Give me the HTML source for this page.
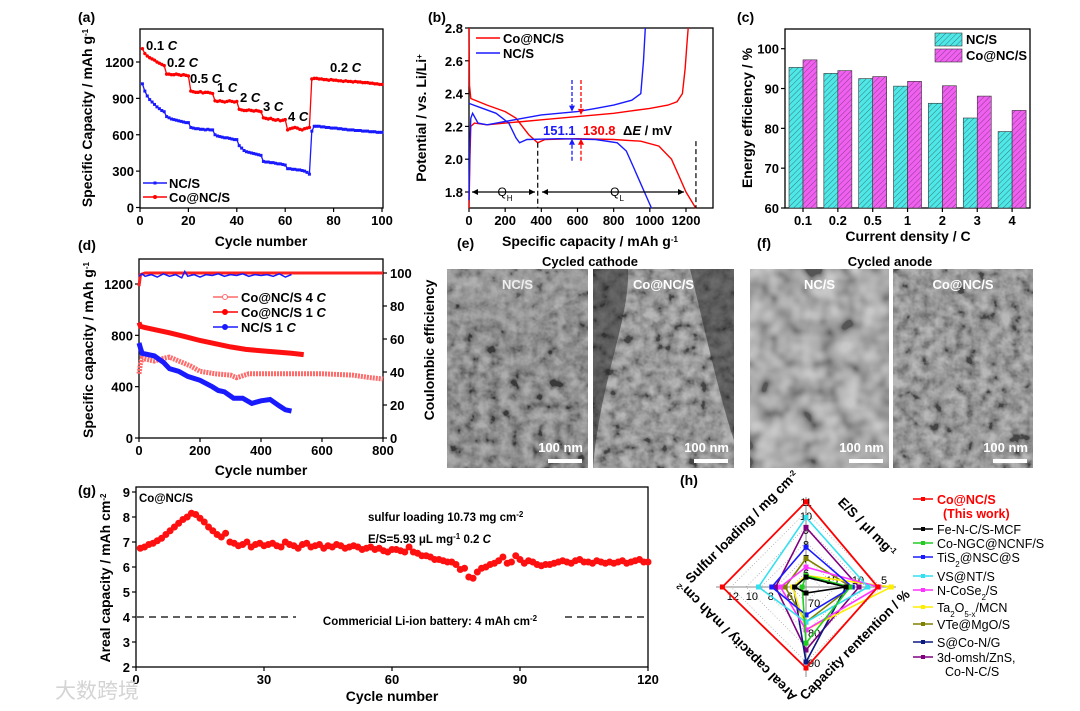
<!DOCTYPE html>
<html><head><meta charset="utf-8">
<style>
html,body{margin:0;padding:0;background:#fff;}
svg{display:block;font-family:"Liberation Sans","Noto Sans CJK SC",sans-serif;}
</style></head>
<body>
<svg id="fig" width="1080" height="711" viewBox="0 0 1080 711">
<defs>
<pattern id="hatchC" patternUnits="userSpaceOnUse" width="4" height="4" patternTransform="rotate(45)"><rect width="4" height="4" fill="#4ee8e8"/><line x1="0" y1="0" x2="0" y2="4" stroke="#3a7a7a" stroke-width="1"/></pattern>
<pattern id="hatchM" patternUnits="userSpaceOnUse" width="4" height="4" patternTransform="rotate(45)"><rect width="4" height="4" fill="#f060f0"/><line x1="0" y1="0" x2="0" y2="4" stroke="#8a3a8a" stroke-width="1"/></pattern>
<filter id="noise1" x="0" y="0" width="100%" height="100%"><feTurbulence type="fractalNoise" baseFrequency="0.09" numOctaves="3" seed="3"/><feColorMatrix type="matrix" values="0.33 0.33 0.33 0 0  0.33 0.33 0.33 0 0  0.33 0.33 0.33 0 0  0 0 0 0 1"/><feComponentTransfer><feFuncR type="linear" slope="3" intercept="-1"/><feFuncG type="linear" slope="3" intercept="-1"/><feFuncB type="linear" slope="3" intercept="-1"/></feComponentTransfer></filter>
<filter id="noise2" x="0" y="0" width="100%" height="100%"><feTurbulence type="fractalNoise" baseFrequency="0.05" numOctaves="2" seed="8"/><feColorMatrix type="matrix" values="0.33 0.33 0.33 0 0  0.33 0.33 0.33 0 0  0.33 0.33 0.33 0 0  0 0 0 0 1"/><feComponentTransfer><feFuncR type="linear" slope="3" intercept="-1"/><feFuncG type="linear" slope="3" intercept="-1"/><feFuncB type="linear" slope="3" intercept="-1"/></feComponentTransfer></filter>
</defs>
<rect x="0" y="0" width="1080" height="711" fill="#fff"/>
</svg>
<script>
// ---------- DATA ----------
// (a) rate capability
const aCycles = Array.from({length:100},(_,i)=>i+1);
const aCoNC = [1310,1270,1250,1235,1225,1215,1200,1190,1180,1170,
1100,1100,1095,1095,1100,1095,1090,1095,1090,1085,
960,955,950,950,955,945,950,950,945,940,
880,875,880,875,870,875,880,875,870,875,
810,805,800,800,805,800,795,800,795,790,
740,735,730,735,725,720,725,715,720,725,
640,650,655,660,655,645,640,650,655,660,
1060,1065,1065,1060,1060,1055,1055,1050,1055,1050,
1050,1045,1045,1040,1045,1040,1040,1035,1040,1035,
1035,1030,1030,1030,1025,1025,1020,1020,1015,1015];
const aNC = [1020,960,920,890,870,850,830,815,800,790,
750,740,730,725,720,715,710,705,700,700,
660,655,650,650,645,645,640,645,640,640,
600,590,585,580,575,575,570,565,560,560,
510,490,470,460,455,450,445,440,435,430,
380,375,375,370,370,365,360,360,355,350,
320,320,315,315,310,310,305,300,290,275,
630,670,670,670,665,665,660,660,655,655,
655,650,650,645,645,640,640,640,635,635,
635,630,630,630,625,625,625,620,620,620];
const aRateLabels = ["0.1","0.2","0.5","1","2","3","4","0.2"];
const aXTicks = [0,20,40,60,80,100];
const aYTicks = [0,300,600,900,1200];

// (b) voltage profiles
const bRedChgX = [0,5,10,30,100,200,300,400,500,600,700,800,900,1000,1100,1150,1180,1195,1205,1212];
const bRedChgV = [1.7,2.0,2.2,2.22,2.21,2.22,2.23,2.24,2.25,2.26,2.27,2.28,2.295,2.31,2.33,2.35,2.4,2.55,2.7,2.8];
const bRedDisX = [0,3,10,100,200,260,330,380,420,600,800,950,1050,1120,1160,1200,1255];
const bRedDisV = [2.8,2.45,2.37,2.33,2.29,2.25,2.15,2.1,2.12,2.125,2.12,2.11,2.08,2.0,1.9,1.8,1.7];
const bBlueChgX = [0,5,10,20,50,100,200,300,400,600,700,800,900,950,965,975];
const bBlueChgV = [1.75,2.1,2.25,2.28,2.22,2.21,2.23,2.25,2.27,2.29,2.31,2.33,2.36,2.4,2.6,2.8];
const bBlueDisX = [0,50,150,220,260,280,320,500,700,820,870,910,950,970,1010];
const bBlueDisV = [2.34,2.32,2.28,2.22,2.13,2.1,2.12,2.125,2.12,2.1,2.05,1.95,1.85,1.8,1.7];
const bXTicks = [0,200,400,600,800,1000,1200];
const bYTicks = [1.8,2.0,2.2,2.4,2.6,2.8];

// (c) energy efficiency
const cCats = ["0.1","0.2","0.5","1","2","3","4"];
const cNC = [95.3,93.8,92.5,90.6,86.3,82.6,79.2];
const cCo = [97.2,94.5,93.0,91.8,90.7,88.1,84.5];
const cYTicks = [60,70,80,90,100];

// (d) long cycling
const dCo1X = [0,5,20,50,100,150,200,250,300,350,400,450,500,540];
const dCo1Y = [900,870,860,845,820,790,760,735,710,690,680,670,660,650];
const dCo4X = [0,5,10,30,50,80,100,130,170,200,250,300,320,360,400,500,600,700,760,800];
const dCo4Y = [500,580,620,610,600,620,630,600,560,520,500,490,470,500,500,500,500,490,470,460];
const dNCX = [0,5,10,50,80,100,130,160,200,240,260,280,310,340,370,400,430,460,480,500];
const dNCY = [740,700,660,640,590,540,520,480,450,400,370,360,310,310,270,290,300,250,220,210];
const dCoCEX = [0,5,20,100,200,300,400,500,600,700,800];
const dCoCE = [92,99,100,100,100,100,100,100,100,100,100];
const dNCCEX = [0,10,20,40,60,80,100,120,140,150,160,180,200,220,240,260,280,300,320,340,360,380,400,420,440,460,480,500];
const dNCCE = [98,99.5,98,99,97.5,99.5,98,99,97,101,98,99,97.5,99,98.5,99.5,98,99,98.5,99.5,98,99,98.5,99,98,99.5,97.5,99];
const dXTicks = [0,200,400,600,800];
const dYTicks = [0,400,800,1200];
const dY2Ticks = [0,20,40,60,80,100];

// (g) areal capacity
const gVals = [6.75,6.8,6.9,6.95,7.05,7.15,7.3,7.45,7.6,7.75,
7.9,8.0,8.15,8.1,7.95,7.8,7.6,7.45,7.3,7.2,
7.35,7.0,6.95,6.85,6.9,7.0,6.8,6.9,6.95,6.85,
6.9,6.95,6.85,6.8,7.0,6.9,6.85,6.75,6.9,6.95,
6.8,6.85,6.9,6.75,6.85,6.8,6.9,6.85,6.75,6.8,
6.85,6.8,6.7,6.75,6.8,6.7,6.75,6.65,6.6,6.7,
6.7,6.65,6.6,6.8,6.6,6.55,6.45,6.45,6.4,6.3,
6.3,6.25,6.2,6.2,6.1,5.9,5.95,5.6,5.55,5.8,
5.95,6.0,6.1,6.15,6.25,6.4,6.15,6.2,6.45,6.3,
6.15,6.25,6.2,6.1,6.05,6.1,6.1,6.15,6.2,6.25,
6.2,6.15,6.25,6.3,6.2,6.2,6.15,6.25,6.2,6.15,
6.2,6.15,6.2,6.25,6.15,6.2,6.25,6.3,6.2,6.2];
const gXTicks = [0,30,60,90,120];
const gYTicks = [2,3,4,5,6,7,8,9];

// (h) radar: [sulfur loading, E/S, capacity retention, areal capacity]
const hNames = ["Co@NC/S","Fe-N-C/S-MCF","Co-NGC@NCNF/S","TiS2@NSC@S","VS@NT/S","N-CoSe2/S","Ta2O5-x/MCN","VTe@MgO/S","S@Co-N/G","3d-omsh/ZnS"];
const hColors = ["#ff0000","#000000","#22cc22","#1a1aff","#33e0f0","#ff33ff","#ffee00","#808000","#0a1a80","#800080"];
const hSulfur = [11.0,5.7,5.8,7.8,9.9,6.4,5.8,7.0,5.7,9.2];
const hES =     [6.2,12.3,11.5,11.1,8.1,6.0,3.6,11.3,12.3,9.8];
const hRet =    [91.7,66.7,83.4,74.0,76.4,79.0,79.0,76.4,89.7,85.7];
const hAreal =  [13.1,5.5,4.7,7.9,9.3,7.0,5.7,6.5,5.6,7.5];
const hSulfurTicks = [6,7,8,9,10,11];
const hESTicks = [5,10,15];
const hRetTicks = [70,80,90];
const hArealTicks = [6,8,10,12];

// ---------- HELPERS ----------
const NS='http://www.w3.org/2000/svg';
const svg=document.getElementById('fig');
function mk(tag, attrs, name, parent){
  const el=document.createElementNS(NS,tag);
  for(const k in attrs) el.setAttribute(k,attrs[k]);
  
  
  (parent||svg).appendChild(el);
  return el;
}
function txt(x,y,html,name,o){
  o=o||{};
  const el=mk('text',{x:x,y:y,'font-size':o.size||13,'font-weight':o.weight||'bold','text-anchor':o.anchor||'start',fill:o.fill||'#000'},name);
  if(o.rot!==undefined) el.setAttribute('transform','rotate('+o.rot+' '+x+' '+y+')');
  el.innerHTML=html;
  return el;
}
const sup=s=>'<tspan baseline-shift="super" font-size="8">'+s+'</tspan>';
const sub=s=>'<tspan baseline-shift="sub" font-size="8">'+s+'</tspan>';
function lin(d0,d1,r0,r1){return v=>r0+(v-d0)*(r1-r0)/(d1-d0);}
function frame(x0,y0,x1,y1,name){mk('rect',{x:x0,y:y0,width:x1-x0,height:y1-y0,fill:'none',stroke:'#000','stroke-width':1.3},name);}
function xTicks(vals,sc,y,name,labels){
  vals.forEach((v,i)=>{const x=sc(v);
    mk('line',{x1:x,x2:x,y1:y,y2:y+4,stroke:'#000','stroke-width':1.2},name+'-tick');
    txt(x,y+17,labels?labels[i]:String(v),name+'-label',{anchor:'middle',size:13});});
}
function yTicks(vals,sc,x,name,right,fmt){
  vals.forEach(v=>{const y=sc(v);
    mk('line',{x1:x,x2:right?x+4:x-4,y1:y,y2:y,stroke:'#000','stroke-width':1.2},name+'-tick');
    txt(right?x+7:x-6,y+5,fmt?fmt(v):String(v),name+'-label',{anchor:right?'start':'end',size:13});});
}
function path(xs,ys,sx,sy){return xs.map((x,i)=>(i?'L':'M')+sx(x).toFixed(1)+','+sy(ys[i]).toFixed(1)).join('');}

// ---------- PANEL A ----------
(function(){
  const sx=lin(0,100,140,382), sy=lin(0,1200,207.5,62);
  frame(140,29,383,208,'panel-a-frame');
  xTicks(aXTicks,sx,208,'panel-a-x-tick');
  yTicks(aYTicks,sy,140,'panel-a-y-tick');
  txt(78,22,'(a)','panel-a-tag',{size:14});
  txt(261,246,'Cycle number','panel-a-x-title',{anchor:'middle',size:14});
  txt(92,118,'Specific Capacity / mAh g'+sup('-1'),'panel-a-y-title',{anchor:'middle',size:14,rot:-90});
  mk('path',{d:path(aCycles,aNC,sx,sy),fill:'none',stroke:'#1a1aff','stroke-width':1.3},'series-nc-s-line');
  aCycles.forEach((c,i)=>{mk('rect',{x:sx(c)-1.5,y:sy(aNC[i])-1.5,width:3,height:3,fill:'#1a1aff'},'nc-s-point');});
  mk('path',{d:path(aCycles,aCoNC,sx,sy),fill:'none',stroke:'#ff0000','stroke-width':1.3},'series-co-nc-s-line');
  aCycles.forEach((c,i)=>{mk('circle',{cx:sx(c),cy:sy(aCoNC[i]),r:1.7,fill:'#ff0000'},'co-nc-s-point');});
  const lp=[[146,50],[167,67],[190,83],[217,92],[240,102],[263,111],[288,121],[330,72]];
  aRateLabels.forEach((l,i)=>txt(lp[i][0],lp[i][1],l+' <tspan font-style="italic">C</tspan>','rate-label',{size:13}));
  mk('line',{x1:143,x2:167,y1:183,y2:183,stroke:'#1a1aff','stroke-width':1.5},'legend-nc-s-line');
  mk('rect',{x:153.5,y:181.5,width:3,height:3,fill:'#1a1aff'},'legend-nc-s-marker');
  txt(169,188,'NC/S','legend-nc-s-label',{size:13});
  mk('line',{x1:143,x2:167,y1:197,y2:197,stroke:'#ff0000','stroke-width':1.5},'legend-co-nc-s-line');
  mk('circle',{cx:155,cy:197,r:2,fill:'#ff0000'},'legend-co-nc-s-marker');
  txt(169,202,'Co@NC/S','legend-co-nc-s-label',{size:13});
})();

// ---------- PANEL B ----------
(function(){
  const sx=lin(0,1200,469,686), sy=lin(1.8,2.8,192,28);
  frame(469,28,713,208,'panel-b-frame');
  xTicks(bXTicks,sx,208,'panel-b-x-tick');
  yTicks(bYTicks,sy,469,'panel-b-y-tick',false,v=>v.toFixed(1));
  txt(428,22,'(b)','panel-b-tag',{size:14});
  txt(590,246,'Specific capacity / mAh g'+sup('-1'),'panel-b-x-title',{anchor:'middle',size:14});
  txt(426,118,'Potential / vs. Li/Li'+sup('+'),'panel-b-y-title',{anchor:'middle',size:14,rot:-90});
  const c=[['red-charge',bRedChgX,bRedChgV,'#ff0000'],['red-discharge',bRedDisX,bRedDisV,'#ff0000'],['blue-charge',bBlueChgX,bBlueChgV,'#1a1aff'],['blue-discharge',bBlueDisX,bBlueDisV,'#1a1aff']];
  const g=mk('g',{},'curves');
  c.forEach(s=>mk('path',{d:path(s[1],s[2],sx,sy),fill:'none',stroke:s[3],'stroke-width':1.4},'curve-'+s[0],g));
  mk('line',{x1:476,x2:500,y1:38,y2:38,stroke:'#ff0000','stroke-width':1.5},'legend-co-nc-s-line');
  txt(503,43,'Co@NC/S','legend-co-nc-s-label',{size:13});
  mk('line',{x1:476,x2:500,y1:53,y2:53,stroke:'#1a1aff','stroke-width':1.5},'legend-nc-s-line');
  txt(503,58,'NC/S','legend-nc-s-label',{size:13});
  mk('line',{x1:sx(380),x2:sx(380),y1:sy(2.1),y2:208,stroke:'#000','stroke-dasharray':'5,3','stroke-width':1.2},'qh-divider');
  mk('line',{x1:sx(1255),x2:sx(1255),y1:sy(2.11),y2:208,stroke:'#000','stroke-dasharray':'5,3','stroke-width':1.2},'ql-end');
  mk('line',{x1:472,x2:535,y1:192,y2:192,stroke:'#000','stroke-width':1.2},'qh-arrow');
  mk('line',{x1:542,x2:684,y1:192,y2:192,stroke:'#000','stroke-width':1.2},'ql-arrow');
  [[472,1],[535,-1],[542,1],[684,-1]].forEach(a=>mk('path',{d:'M'+a[0]+',192 l'+(a[1]*6)+',-3 v6 z',fill:'#000'},'arrow-head'));
  txt(505,196,'Q'+sub('H'),'qh-label',{anchor:'middle',size:12,weight:'normal'});
  txt(617,196,'Q'+sub('L'),'ql-label',{anchor:'middle',size:12,weight:'normal'});
  [[572,'#1a1aff',2.29],[581,'#ff0000',2.27]].forEach(a=>{
    mk('line',{x1:a[0],x2:a[0],y1:80,y2:sy(a[2])-6,stroke:a[1],'stroke-dasharray':'4,2','stroke-width':1.3},'delta-e-marker-top');
    mk('path',{d:'M'+a[0]+','+sy(a[2])+' l-3,-6 h6 z',fill:a[1]},'delta-e-arrow-top');
    mk('line',{x1:a[0],x2:a[0],y1:sy(2.125)+6,y2:162,stroke:a[1],'stroke-dasharray':'4,2','stroke-width':1.3},'delta-e-marker-bottom');
    mk('path',{d:'M'+a[0]+','+sy(2.125)+' l-3,6 h6 z',fill:a[1]},'delta-e-arrow-bottom');
  });
  txt(543,135,'151.1','delta-e-nc-s',{fill:'#1a1aff',size:13});
  txt(583,135,'130.8','delta-e-co-nc-s',{fill:'#ff0000',size:13});
  txt(623,135,'Δ<tspan font-style="italic">E</tspan> / mV','delta-e-label',{size:13});
})();

// ---------- PANEL C ----------
(function(){
  const sy=lin(60,100,208,48.7);
  const cx=i=>803+i*34.85;
  frame(785,29,1030,208,'panel-c-frame');
  cCats.forEach((c,i)=>{
    mk('rect',{x:cx(i)-14,y:sy(cNC[i]),width:14,height:208-sy(cNC[i]),fill:'url(#hatchC)',stroke:'#333','stroke-width':0.6},'bar-nc-s-'+c);
    mk('rect',{x:cx(i),y:sy(cCo[i]),width:14,height:208-sy(cCo[i]),fill:'url(#hatchM)',stroke:'#333','stroke-width':0.6},'bar-co-nc-s-'+c);
  });
  xTicks(cCats.map((c,i)=>i),cx,208,'panel-c-x-tick',cCats);
  yTicks(cYTicks,sy,785,'panel-c-y-tick');
  txt(737,22,'(c)','panel-c-tag',{size:14});
  txt(908,241,'Current density / C','panel-c-x-title',{anchor:'middle',size:14});
  txt(752,118,'Energy efficiency / %','panel-c-y-title',{anchor:'middle',size:14,rot:-90});
  mk('rect',{x:935,y:33,width:27,height:13,fill:'url(#hatchC)',stroke:'#333','stroke-width':0.6},'legend-nc-s-swatch');
  txt(966,44,'NC/S','legend-nc-s-label',{size:13});
  mk('rect',{x:935,y:49,width:27,height:13,fill:'url(#hatchM)',stroke:'#333','stroke-width':0.6},'legend-co-nc-s-swatch');
  txt(966,60,'Co@NC/S','legend-co-nc-s-label',{size:13});
})();

// ---------- PANEL D ----------
(function(){
  const sx=lin(0,800,139,383), sy=lin(0,1200,438,284), sr=lin(0,100,438,273);
  frame(139,259,383,438,'panel-d-frame');
  xTicks(dXTicks,sx,438,'panel-d-x-tick');
  yTicks(dYTicks,sy,139,'panel-d-y-tick');
  yTicks(dY2Ticks,sr,383,'panel-d-y2-tick',true);
  txt(78,250,'(d)','panel-d-tag',{size:14});
  txt(261,475,'Cycle number','panel-d-x-title',{anchor:'middle',size:14});
  txt(93,350,'Specific capacity / mAh g'+sup('-1'),'panel-d-y-title',{anchor:'middle',size:14,rot:-90});
  txt(434,350,'Coulombic efficiency','panel-d-y2-title',{anchor:'middle',size:14,rot:-90});
  mk('path',{d:path(dCoCEX,dCoCE,sx,sr),fill:'none',stroke:'#ff2020','stroke-width':3},'co-nc-s-ce');
  mk('path',{d:path(dNCCEX,dNCCE,sx,sr),fill:'none',stroke:'#1a1aff','stroke-width':1.5},'nc-s-ce');
  mk('path',{d:path(dCo4X,dCo4Y,sx,sy),fill:'none',stroke:'#ff6a6a','stroke-width':5,'stroke-dasharray':'2,1'},'co-nc-s-4c');
  mk('path',{d:path(dCo1X,dCo1Y,sx,sy),fill:'none',stroke:'#ff1010','stroke-width':5},'co-nc-s-1c');
  mk('path',{d:path(dNCX,dNCY,sx,sy),fill:'none',stroke:'#1a1aff','stroke-width':5},'nc-s-1c');
  const lg=[[297,'#ff6a6a','Co@NC/S 4 '],[312,'#ff0000','Co@NC/S 1 '],[327,'#1a1aff','NC/S 1 ']];
  lg.forEach((l,i)=>{
    mk('line',{x1:213,x2:238,y1:l[0],y2:l[0],stroke:l[1],'stroke-width':1.5},'legend-d-line');
    mk('circle',{cx:225,cy:l[0],r:2.5,fill:i===0?'#fff':l[1],stroke:l[1]},'legend-d-marker');
    txt(241,l[0]+5,l[2]+'<tspan font-style="italic">C</tspan>','legend-d-label',{size:13});
  });
})();

// ---------- PANELS E, F (micrographs) ----------
(function(){
  txt(457,248,'(e)','panel-e-tag',{size:14});
  txt(757,248,'(f)','panel-f-tag',{size:14});
  txt(590,266,'Cycled  cathode','panel-e-title',{anchor:'middle',size:13});
  txt(890,266,'Cycled  anode','panel-f-title',{anchor:'middle',size:13});
  const ims=[[447,588,'#6a6a6a','noise1','NC/S','sem-cathode-nc-s'],[593,734,'#7c7c7c','noise1','Co@NC/S','sem-cathode-co-nc-s'],[750,889,'#9c9c9c','noise2','NC/S','sem-anode-nc-s'],[893,1033,'#7e7e7e','noise1','Co@NC/S','sem-anode-co-nc-s']];
  ims.forEach(m=>{
    mk('rect',{x:m[0],y:269,width:m[1]-m[0],height:199,fill:m[2]},m[5]);
    mk('rect',{x:m[0],y:269,width:m[1]-m[0],height:199,filter:'url(#'+m[3]+')',opacity:0.45},m[5]+'-texture');
    txt((m[0]+m[1])/2,289,m[4],m[5]+'-label',{anchor:'middle',fill:'#fff',size:13});
    txt(m[1]-5,452,'100 nm','scale-bar-label',{anchor:'end',fill:'#fff',size:13});
    mk('rect',{x:m[1]-40,y:459,width:34,height:4,fill:'#fff'},'scale-bar');
  });
  mk('path',{d:'M593,269 H628 C630,320 600,380 593,468 Z',fill:'#222',opacity:0.5},'sem-dark-edge-left');
  mk('path',{d:'M690,269 H734 V440 C720,400 705,330 690,269 Z',fill:'#222',opacity:0.5},'sem-dark-edge-right');
  mk('path',{d:'M447,300 L520,330 L588,290 V269 H447 Z',fill:'#bbb',opacity:0.25},'sem-flake');
})();

// ---------- PANEL G ----------
(function(){
  const sx=lin(0,120,136,648), sy=lin(2,9,667,492);
  frame(136,487,648,667,'panel-g-frame');
  xTicks(gXTicks,sx,667,'panel-g-x-tick');
  yTicks(gYTicks,sy,136,'panel-g-y-tick');
  txt(78,495,'(g)','panel-g-tag',{size:14});
  txt(392,701,'Cycle number','panel-g-x-title',{anchor:'middle',size:14});
  txt(110,578,'Areal capacity / mAh cm'+sup('-2'),'panel-g-y-title',{anchor:'middle',size:14,rot:-90});
  mk('line',{x1:137,x2:296,y1:sy(4),y2:sy(4),stroke:'#000','stroke-dasharray':'7,5','stroke-width':1.2},'commercial-line');
  mk('line',{x1:565,x2:647,y1:sy(4),y2:sy(4),stroke:'#000','stroke-dasharray':'7,5','stroke-width':1.2},'commercial-line');
  txt(430,625,'Commericial Li-ion battery: 4 mAh  cm'+sup('-2'),'commercial-label',{anchor:'middle',size:11.5});
  gVals.forEach((v,i)=>{mk('circle',{cx:sx(i+1),cy:sy(v),r:3.5,fill:'#ff1010'},'areal-capacity-point');});
  txt(139,502,'Co@NC/S','panel-g-sample',{size:11.5});
  txt(368,521,'sulfur loading 10.73 mg cm'+sup('-2'),'sulfur-loading-note',{size:11.5});
  txt(368,543,'E/S=5.93 μL mg'+sup('-1')+' 0.2 <tspan font-style="italic">C</tspan>','es-note',{size:11.5});
  txt(55,698,'大数跨境','watermark',{size:21,weight:'normal',fill:'#d4d4d4'});
})();

// ---------- PANEL H (radar) ----------
(function(){
  const cx=806, cy=587;
  const rS=v=>(v-5)*14.2, rE=v=>(20-v)*5.2, rR=v=>(v-64.7)*3, rA=v=>(v-4.3)*9.5;
  txt(680,485,'(h)','panel-h-tag',{size:14});
  [15,30,45,60,75].forEach(r=>mk('path',{d:'M'+cx+','+(cy-r)+'L'+(cx+r)+','+cy+'L'+cx+','+(cy+r)+'L'+(cx-r)+','+cy+'Z',fill:'none',stroke:'#aaa','stroke-dasharray':'1,2','stroke-width':0.8},'radar-grid'));
  mk('line',{x1:cx,x2:cx,y1:cy-90,y2:cy+90,stroke:'#888','stroke-width':1},'radar-axis-vertical');
  mk('line',{x1:cx-90,x2:cx+90,y1:cy,y2:cy,stroke:'#888','stroke-width':1},'radar-axis-horizontal');
  hSulfurTicks.forEach(v=>txt(cx,cy-rS(v)+4,String(v),'sulfur-tick',{anchor:'middle',size:11,weight:'normal'}));
  hESTicks.forEach(v=>txt(cx+rE(v),cy-3,String(v),'es-tick',{anchor:'middle',size:11,weight:'normal'}));
  hRetTicks.forEach(v=>txt(cx+2,cy+rR(v)+4,String(v),'retention-tick',{size:11,weight:'normal'}));
  hArealTicks.forEach(v=>txt(cx-rA(v),cy+13,String(v),'areal-tick',{anchor:'middle',size:11,weight:'normal'}));
  for(let i=hNames.length-1;i>=0;i--){
    const pts=[[cx,cy-rS(hSulfur[i])],[cx+rE(hES[i]),cy],[cx,cy+rR(hRet[i])],[cx-rA(hAreal[i]),cy]];
    mk('polygon',{points:pts.map(p=>p[0].toFixed(1)+','+p[1].toFixed(1)).join(' '),fill:'none',stroke:hColors[i],'stroke-width':i===0?1.8:1.6},'radar-series-'+hNames[i]);
    pts.forEach(p=>mk('rect',{x:p[0]-2.5,y:p[1]-2.5,width:5,height:5,fill:hColors[i]},'radar-point'));
  }
  txt(745,530,'Sulfur loading / mg cm'+sup('-2'),'sulfur-axis-title',{anchor:'middle',size:13.5,rot:-45});
  txt(864,530,'E/S / μl mg'+sup('-1'),'es-axis-title',{anchor:'middle',size:13.5,rot:45});
  txt(858,648,'Capacity rentention / %','retention-axis-title',{anchor:'middle',size:13.5,rot:-45});
  txt(740,638,'Areal capacity / mAh cm'+sup('-2'),'areal-axis-title',{anchor:'middle',size:13.5,rot:-135});
  const lbl=['Co@NC/S','Fe-N-C/S-MCF','Co-NGC@NCNF/S','TiS'+sub('2')+'@NSC@S','VS@NT/S','N-CoSe'+sub('2')+'/S','Ta'+sub('2')+'O'+sub('5-x')+'/MCN','VTe@MgO/S','S@Co-N/G','3d-omsh/ZnS,'];
  const ly=[499,529,543,557,576,590,607,624,642,657];
  lbl.forEach((l,i)=>{
    mk('line',{x1:913,x2:933,y1:ly[i],y2:ly[i],stroke:hColors[i],'stroke-width':1.5},'legend-h-line');
    mk('rect',{x:921,y:ly[i]-2,width:4,height:4,fill:hColors[i]},'legend-h-marker');
    txt(937,ly[i]+5,l,'legend-h-label',{size:12.5,fill:i===0?'#ff0000':'#000',weight:i===0?'bold':'normal'});
  });
  txt(943,518,'(This work)','legend-h-this-work',{size:12.5,fill:'#ff0000'});
  txt(945,676,'Co-N-C/S','legend-h-label-cont',{size:12.5,weight:'normal'});
})();
</script>
</body></html>
